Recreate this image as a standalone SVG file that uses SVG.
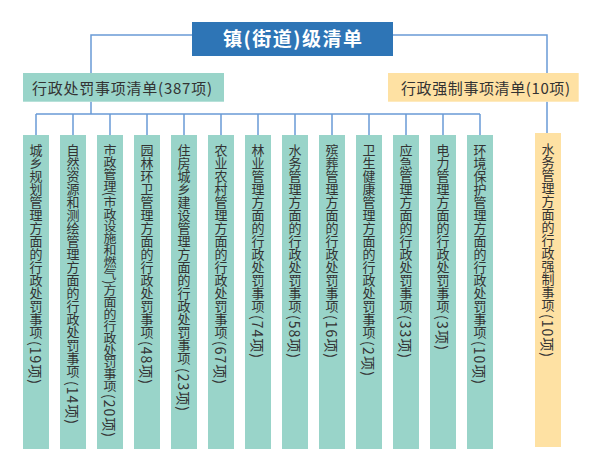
<svg xmlns="http://www.w3.org/2000/svg" width="589" height="463" viewBox="0 0 589 463">
<style>
.conn{fill:none;stroke:#6a9bd6;stroke-width:1.5}
.g{fill:#99d4c9}
.y{fill:#fee1a3}
.t{font-family:"Noto Sans CJK SC","Noto Sans",sans-serif;fill:#333}
.v{font-family:"Noto Sans CJK SC","Noto Sans",sans-serif;fill:#333;font-size:13px;writing-mode:vertical-rl}
.p{font-family:"Noto Sans CJK SC","Noto Sans",sans-serif;fill:#333;font-size:14px;dominant-baseline:central}
</style>
<rect width="589" height="463" fill="#fff"/>
<g id="connectors">
<path class="conn" d="M192 35H91V73M393 35H547V73M91 101.7V114M547 101.7V133"/>
<path class="conn" d="M36 114H480M36 114V135M73 114V135M110 114V135M147 114V135M184 114V135M221 114V135M258 114V135M295 114V135M332 114V135M369 114V135M406 114V135M443 114V135M480 114V135"/>
</g>
<g id="root">
<rect x="192" y="22" width="201" height="34" fill="#2e75b6"/>
<text x="223" y="46" class="t" style="fill:#fff;font-size:19px;font-weight:bold" textLength="139">镇(街道)级清单</text>
</g>
<g id="penalty">
<rect x="23" y="73" width="201" height="28.7" class="g"/>
<text x="32" y="93.5" class="t" font-size="15" textLength="180">行政处罚事项清单(387项)</text>
</g>
<g id="enforce">
<rect x="388" y="73" width="190.7" height="28.7" class="y"/>
<text x="401" y="93.5" class="t" font-size="15" textLength="169">行政强制事项清单(10项)</text>
</g>
<g id="c1"><rect x="23" y="135" width="26" height="314" class="g"/><text x="36" y="144" class="v">城乡规划管理方面的行政处罚事项</text><text class="p" transform="translate(36,341) rotate(90)" textLength="43">(19项)</text></g>
<g id="c2"><rect x="60" y="135" width="26" height="314" class="g"/><text x="73" y="144" class="v">自然资源和测绘管理方面的行政处罚事项</text><text class="p" transform="translate(73,381) rotate(90)" textLength="43">(14项)</text></g>
<g id="c3"><rect x="97" y="135" width="26" height="314" class="g"/><text x="110" y="144" class="v" transform="translate(0,144) scale(1,0.925) translate(0,-144)">市政管理(市政设施和燃气)方面的行政处罚事项</text><text class="p" transform="translate(110,394) rotate(90)" textLength="43">(20项)</text></g>
<g id="c4"><rect x="134" y="135" width="26" height="314" class="g"/><text x="147" y="144" class="v">园林环卫管理方面的行政处罚事项</text><text class="p" transform="translate(147,341) rotate(90)" textLength="43">(48项)</text></g>
<g id="c5"><rect x="171" y="135" width="26" height="314" class="g"/><text x="184" y="144" class="v">住房城乡建设管理方面的行政处罚事项</text><text class="p" transform="translate(184,368) rotate(90)" textLength="43">(23项)</text></g>
<g id="c6"><rect x="208" y="135" width="26" height="314" class="g"/><text x="221" y="144" class="v">农业农村管理方面的行政处罚事项</text><text class="p" transform="translate(221,341) rotate(90)" textLength="43">(67项)</text></g>
<g id="c7"><rect x="245" y="135" width="26" height="314" class="g"/><text x="258" y="144" class="v">林业管理方面的行政处罚事项</text><text class="p" transform="translate(258,315) rotate(90)" textLength="43">(74项)</text></g>
<g id="c8"><rect x="282" y="135" width="26" height="314" class="g"/><text x="295" y="144" class="v">水务管理方面的行政处罚事项</text><text class="p" transform="translate(295,315) rotate(90)" textLength="43">(58项)</text></g>
<g id="c9"><rect x="319" y="135" width="26" height="314" class="g"/><text x="332" y="144" class="v">殡葬管理方面的行政处罚事项</text><text class="p" transform="translate(332,315) rotate(90)" textLength="43">(16项)</text></g>
<g id="c10"><rect x="356" y="135" width="26" height="314" class="g"/><text x="369" y="144" class="v">卫生健康管理方面的行政处罚事项</text><text class="p" transform="translate(369,341) rotate(90)" textLength="35">(2项)</text></g>
<g id="c11"><rect x="393" y="135" width="26" height="314" class="g"/><text x="406" y="144" class="v">应急管理方面的行政处罚事项</text><text class="p" transform="translate(406,315) rotate(90)" textLength="43">(33项)</text></g>
<g id="c12"><rect x="430" y="135" width="26" height="314" class="g"/><text x="443" y="144" class="v">电力管理方面的行政处罚事项</text><text class="p" transform="translate(443,315) rotate(90)" textLength="35">(3项)</text></g>
<g id="c13"><rect x="467" y="135" width="26" height="314" class="g"/><text x="480" y="144" class="v">环境保护管理方面的行政处罚事项</text><text class="p" transform="translate(480,341) rotate(90)" textLength="43">(10项)</text></g>
<g id="c14"><rect x="535" y="133" width="26" height="314" class="y"/><text x="548" y="143" class="v">水务管理方面的行政强制事项</text><text class="p" transform="translate(548,314) rotate(90)" textLength="43">(10项)</text></g>
</svg>
